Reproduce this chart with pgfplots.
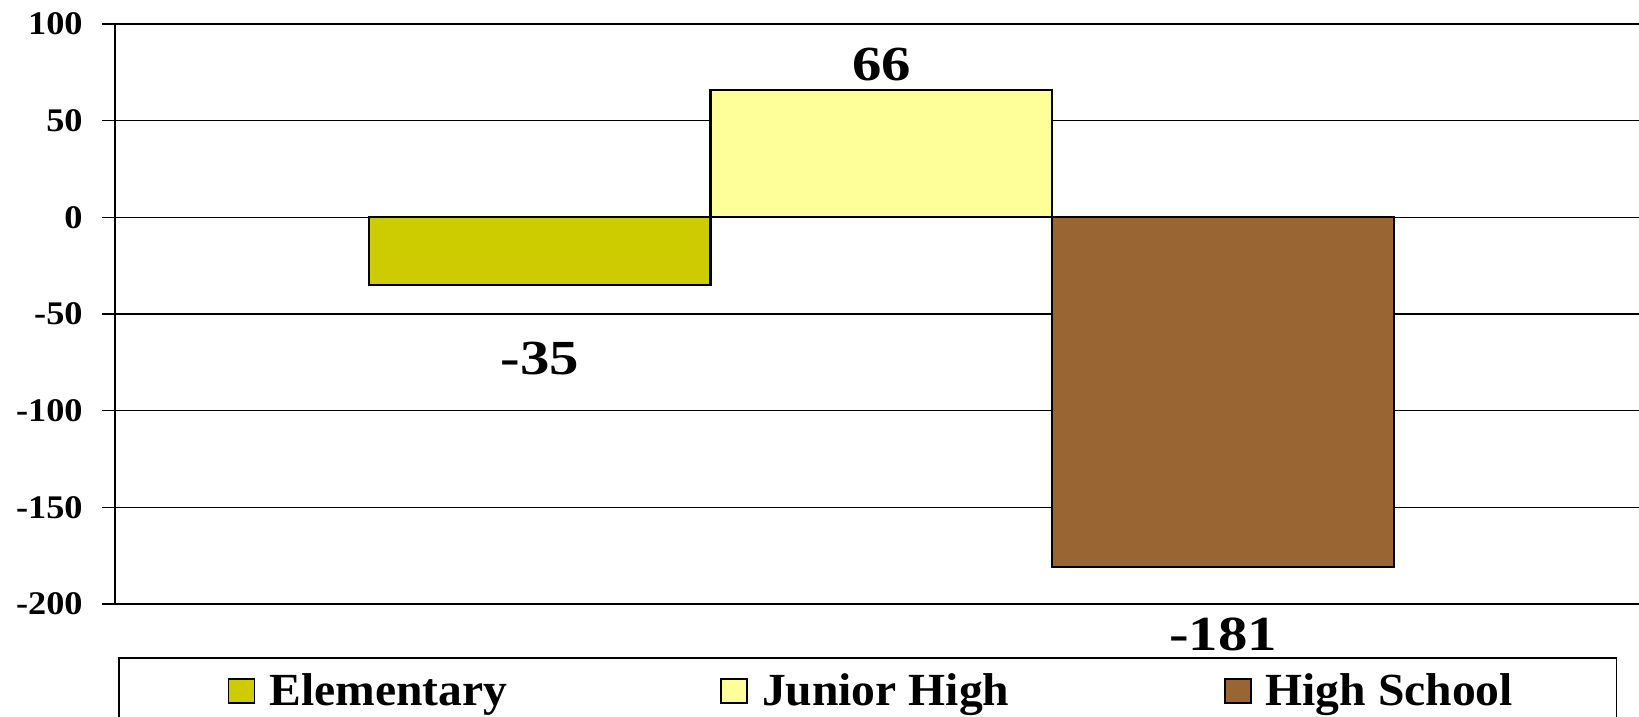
\documentclass[border=0pt]{standalone}
\usepackage{fontspec}
\setmainfont{Liberation Serif}
\usepackage{graphicx}
\usepackage{pgfplots}
\pgfplotsset{compat=1.18}

\definecolor{elem}{HTML}{CCCC00}
\definecolor{junior}{HTML}{FFFF99}
\definecolor{high}{HTML}{996633}

% slightly widened bold lettering
\newcommand\ticklab[1]{\scalebox{1.1}[1]{#1}}
\newcommand\vallab[1]{\scalebox{1.2}[1]{#1}}
\newcommand\leglab[1]{\scalebox{1.035}[1]{#1}}

\pgfplotsset{
  sqlegend/.style={legend image code/.code={%
      \draw[##1, line width=0.8pt] (0pt,-6pt) rectangle (13pt,6pt);}},
}

\begin{document}
\begin{tikzpicture}
\begin{axis}[
  at={(0,0)}, anchor=south west,
  scale only axis, width=762pt, height=290pt,
  xmin=-1.243, xmax=3.217, ymin=-200, ymax=100,
  axis lines=left,
  axis line style={-, line width=1pt, black},
  xtick=\empty,
  ytick={-200,-150,-100,-50,0,50,100},
  yticklabels={\ticklab{-200},\ticklab{-150},\ticklab{-100},\ticklab{-50},\ticklab{0},\ticklab{50},\ticklab{100}},
  ymajorgrids,
  grid style={black, line width=0.8pt},
  tick align=outside,
  major tick length=6.5pt,
  ytick style={black, line width=0.8pt},
  yticklabel style={font=\fontsize{16.5}{18}\selectfont\bfseries, inner sep=0pt, xshift=-9.5pt},
  clip=false,
  legend columns=3,
  legend cell align=left,
  legend style={
    at={(0,0)}, anchor=north west, xshift=1.5pt, yshift=-26.5pt,
    draw=black, line width=0.8pt,
    font=\fontsize{23}{26}\selectfont\bfseries,
    inner xsep=54.5pt, inner ysep=8pt,
    nodes={inner sep=0pt},
    /tikz/every odd column/.style={column sep=7pt},
    /tikz/every even column/.style={column sep=0pt},
  },
]
\addplot[ybar, bar width=1, bar shift=0pt, draw=black, line width=1.1pt, fill=elem, sqlegend]
  coordinates {(0,-35)};
\addlegendentry{\makebox[225.5pt][l]{\leglab{Elementary}}}
\addplot[ybar, bar width=1, bar shift=0pt, draw=black, line width=1.1pt, fill=junior, sqlegend]
  coordinates {(1,66)};
\addlegendentry{\makebox[231pt][l]{\leglab{Junior High}}}
\addplot[ybar, bar width=1, bar shift=0pt, draw=black, line width=1.1pt, fill=high, sqlegend]
  coordinates {(2,-181)};
\addlegendentry{\makebox[121pt][l]{\leglab{High School}}}

% value labels
\node[anchor=base, font=\fontsize{24.5}{28}\selectfont\bfseries, yshift=-45pt]
  at (axis cs:0,-35) {\vallab{-35}};
\node[anchor=base, font=\fontsize{24.5}{28}\selectfont\bfseries, yshift=4.5pt]
  at (axis cs:1,66) {\vallab{66}};
\node[anchor=base, font=\fontsize{24.5}{28}\selectfont\bfseries, yshift=-41.5pt]
  at (axis cs:2,-181) {\vallab{-181}};
\end{axis}
\pgfresetboundingbox
\useasboundingbox (-57.5pt,-56.5pt) rectangle (762pt,302pt);
\end{tikzpicture}
\end{document}
